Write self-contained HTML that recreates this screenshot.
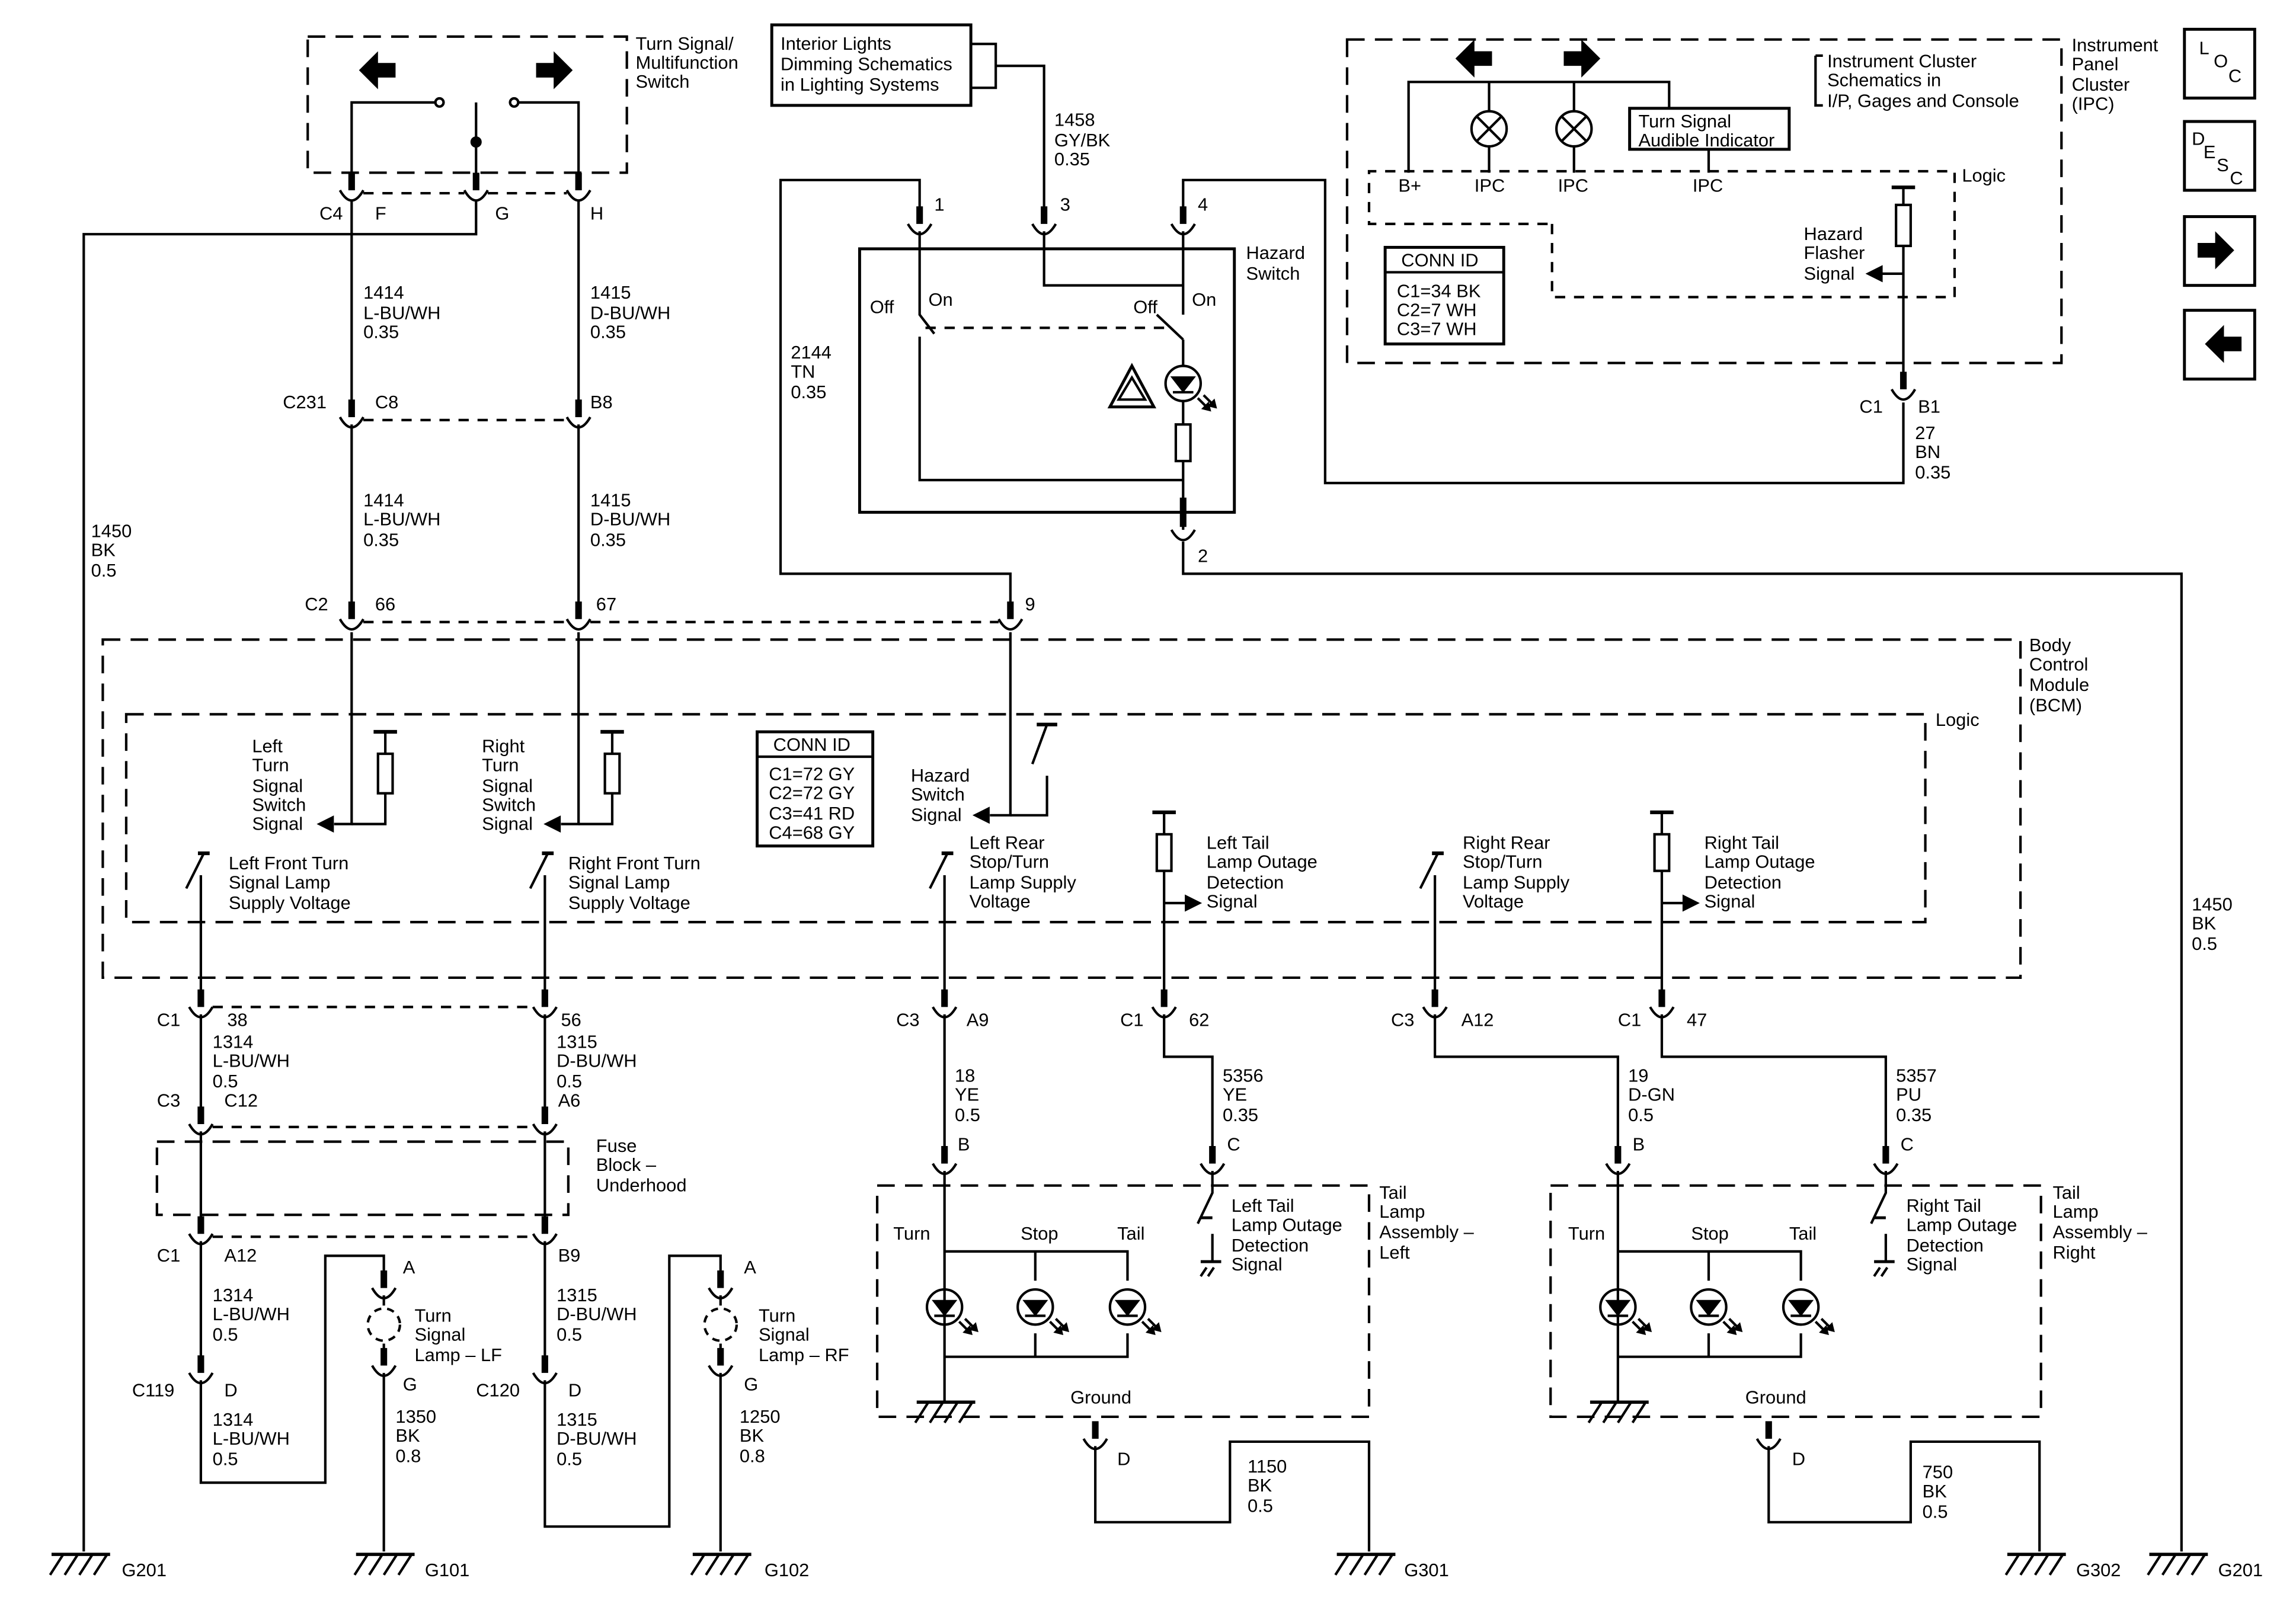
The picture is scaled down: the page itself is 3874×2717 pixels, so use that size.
<!DOCTYPE html>
<html><head><meta charset="utf-8"><style>
html,body{margin:0;padding:0;background:#fff}
svg{display:block}
text{font-family:"Liberation Sans",Arial,sans-serif;font-size:12.5px;fill:#000}
</style></head><body>
<svg id="s" width="3874" height="2717" viewBox="0 0 1568 1100" xmlns="http://www.w3.org/2000/svg">
<g id="g" fill="none" stroke="#000" stroke-width="1.7"></g>
<g id="t">
<text x="434" y="34">Turn Signal/</text><text x="434" y="47">Multifunction</text><text x="434" y="60">Switch</text>
<text x="533" y="34">Interior Lights</text><text x="533" y="48">Dimming Schematics</text><text x="533" y="62">in Lighting Systems</text>
<text x="720" y="86">1458</text><text x="720" y="100">GY/BK</text><text x="720" y="113">0.35</text>
<text x="1248" y="46">Instrument Cluster</text><text x="1248" y="59">Schematics in</text><text x="1248" y="73">I/P, Gages and Console</text>
<text x="1415" y="35">Instrument</text><text x="1415" y="48">Panel</text><text x="1415" y="62">Cluster</text><text x="1415" y="75">(IPC)</text>
<text x="1119" y="87">Turn Signal</text><text x="1119" y="100">Audible Indicator</text>
<text x="955" y="131">B+</text><text x="1007" y="131">IPC</text><text x="1064" y="131">IPC</text><text x="1156" y="131">IPC</text>
<text x="1340" y="124">Logic</text>
<text x="1232" y="164">Hazard</text><text x="1232" y="177">Flasher</text><text x="1232" y="191">Signal</text>
<text x="957" y="182">CONN ID</text><text x="954" y="203">C1=34 BK</text><text x="954" y="216">C2=7 WH</text><text x="954" y="229">C3=7 WH</text>
<text x="1270" y="282">C1</text><text x="1310" y="282">B1</text>
<text x="1308" y="300">27</text><text x="1308" y="313">BN</text><text x="1308" y="327">0.35</text>
<text x="218" y="150">C4</text><text x="256" y="150">F</text><text x="338" y="150">G</text><text x="403" y="150">H</text>
<text x="638" y="144">1</text><text x="724" y="144">3</text><text x="818" y="144">4</text>
<text x="851" y="177">Hazard</text><text x="851" y="191">Switch</text>
<text x="594" y="214">Off</text><text x="634" y="209">On</text><text x="774" y="214">Off</text><text x="814" y="209">On</text>
<text x="248" y="204">1414</text><text x="248" y="218">L-BU/WH</text><text x="248" y="231">0.35</text>
<text x="403" y="204">1415</text><text x="403" y="218">D-BU/WH</text><text x="403" y="231">0.35</text>
<text x="540" y="245">2144</text><text x="540" y="258">TN</text><text x="540" y="272">0.35</text>
<text x="193" y="279">C231</text><text x="256" y="279">C8</text><text x="403" y="279">B8</text>
<text x="248" y="346">1414</text><text x="248" y="359">L-BU/WH</text><text x="248" y="373">0.35</text>
<text x="403" y="346">1415</text><text x="403" y="359">D-BU/WH</text><text x="403" y="373">0.35</text>
<text x="62" y="367">1450</text><text x="62" y="380">BK</text><text x="62" y="394">0.5</text>
<text x="818" y="384">2</text>
<text x="208" y="417">C2</text><text x="256" y="417">66</text><text x="407" y="417">67</text><text x="700" y="417">9</text>
<text x="1386" y="445">Body</text><text x="1386" y="458">Control</text><text x="1386" y="472">Module</text><text x="1386" y="486">(BCM)</text>
<text x="1322" y="496">Logic</text>
<text x="172" y="514">Left</text><text x="172" y="527">Turn</text><text x="172" y="541">Signal</text><text x="172" y="554">Switch</text><text x="172" y="567">Signal</text>
<text x="329" y="514">Right</text><text x="329" y="527">Turn</text><text x="329" y="541">Signal</text><text x="329" y="554">Switch</text><text x="329" y="567">Signal</text>
<text x="528" y="513">CONN ID</text><text x="525" y="533">C1=72 GY</text><text x="525" y="546">C2=72 GY</text><text x="525" y="560">C3=41 RD</text><text x="525" y="573">C4=68 GY</text>
<text x="622" y="534">Hazard</text><text x="622" y="547">Switch</text><text x="622" y="561">Signal</text>
<text x="156" y="594">Left Front Turn</text><text x="156" y="607">Signal Lamp</text><text x="156" y="621">Supply Voltage</text>
<text x="388" y="594">Right Front Turn</text><text x="388" y="607">Signal Lamp</text><text x="388" y="621">Supply Voltage</text>
<text x="662" y="580">Left Rear</text><text x="662" y="593">Stop/Turn</text><text x="662" y="607">Lamp Supply</text><text x="662" y="620">Voltage</text>
<text x="824" y="580">Left Tail</text><text x="824" y="593">Lamp Outage</text><text x="824" y="607">Detection</text><text x="824" y="620">Signal</text>
<text x="999" y="580">Right Rear</text><text x="999" y="593">Stop/Turn</text><text x="999" y="607">Lamp Supply</text><text x="999" y="620">Voltage</text>
<text x="1164" y="580">Right Tail</text><text x="1164" y="593">Lamp Outage</text><text x="1164" y="607">Detection</text><text x="1164" y="620">Signal</text>
<text x="1497" y="622">1450</text><text x="1497" y="635">BK</text><text x="1497" y="649">0.5</text>
<text x="107" y="701">C1</text><text x="155" y="701">38</text><text x="383" y="701">56</text>
<text x="612" y="701">C3</text><text x="660" y="701">A9</text><text x="765" y="701">C1</text><text x="812" y="701">62</text>
<text x="950" y="701">C3</text><text x="998" y="701">A12</text><text x="1105" y="701">C1</text><text x="1152" y="701">47</text>
<text x="145" y="716">1314</text><text x="145" y="729">L-BU/WH</text><text x="145" y="743">0.5</text>
<text x="380" y="716">1315</text><text x="380" y="729">D-BU/WH</text><text x="380" y="743">0.5</text>
<text x="652" y="739">18</text><text x="652" y="752">YE</text><text x="652" y="766">0.5</text>
<text x="835" y="739">5356</text><text x="835" y="752">YE</text><text x="835" y="766">0.35</text>
<text x="1112" y="739">19</text><text x="1112" y="752">D-GN</text><text x="1112" y="766">0.5</text>
<text x="1295" y="739">5357</text><text x="1295" y="752">PU</text><text x="1295" y="766">0.35</text>
<text x="107" y="756">C3</text><text x="153" y="756">C12</text><text x="381" y="756">A6</text>
<text x="654" y="786">B</text><text x="838" y="786">C</text><text x="1115" y="786">B</text><text x="1298" y="786">C</text>
<text x="407" y="787">Fuse</text><text x="407" y="800">Block –</text><text x="407" y="814">Underhood</text>
<text x="942" y="819">Tail</text><text x="942" y="832">Lamp</text><text x="942" y="846">Assembly –</text><text x="942" y="860">Left</text>
<text x="1402" y="819">Tail</text><text x="1402" y="832">Lamp</text><text x="1402" y="846">Assembly –</text><text x="1402" y="860">Right</text>
<text x="841" y="828">Left Tail</text><text x="841" y="841">Lamp Outage</text><text x="841" y="855">Detection</text><text x="841" y="868">Signal</text>
<text x="1302" y="828">Right Tail</text><text x="1302" y="841">Lamp Outage</text><text x="1302" y="855">Detection</text><text x="1302" y="868">Signal</text>
<text x="610" y="847">Turn</text><text x="697" y="847">Stop</text><text x="763" y="847">Tail</text>
<text x="1071" y="847">Turn</text><text x="1155" y="847">Stop</text><text x="1222" y="847">Tail</text>
<text x="107" y="862">C1</text><text x="153" y="862">A12</text><text x="381" y="862">B9</text>
<text x="275" y="870">A</text><text x="508" y="870">A</text>
<text x="145" y="889">1314</text><text x="145" y="902">L-BU/WH</text><text x="145" y="916">0.5</text>
<text x="380" y="889">1315</text><text x="380" y="902">D-BU/WH</text><text x="380" y="916">0.5</text>
<text x="283" y="903">Turn</text><text x="283" y="916">Signal</text><text x="283" y="930">Lamp – LF</text>
<text x="518" y="903">Turn</text><text x="518" y="916">Signal</text><text x="518" y="930">Lamp – RF</text>
<text x="275" y="950">G</text><text x="508" y="950">G</text>
<text x="90" y="954">C119</text><text x="153" y="954">D</text><text x="325" y="954">C120</text><text x="388" y="954">D</text>
<text x="731" y="959">Ground</text><text x="1192" y="959">Ground</text>
<text x="270" y="972">1350</text><text x="270" y="985">BK</text><text x="270" y="999">0.8</text>
<text x="505" y="972">1250</text><text x="505" y="985">BK</text><text x="505" y="999">0.8</text>
<text x="145" y="974">1314</text><text x="145" y="987">L-BU/WH</text><text x="145" y="1001">0.5</text>
<text x="380" y="974">1315</text><text x="380" y="987">D-BU/WH</text><text x="380" y="1001">0.5</text>
<text x="763" y="1001">D</text><text x="1224" y="1001">D</text>
<text x="852" y="1006">1150</text><text x="852" y="1019">BK</text><text x="852" y="1033">0.5</text>
<text x="1313" y="1010">750</text><text x="1313" y="1023">BK</text><text x="1313" y="1037">0.5</text>
<text x="83" y="1077">G201</text><text x="290" y="1077">G101</text><text x="522" y="1077">G102</text><text x="959" y="1077">G301</text><text x="1418" y="1077">G302</text><text x="1515" y="1077">G201</text>
<text x="1502" y="37">L</text><text x="1512" y="46">O</text><text x="1522" y="56">C</text>
<text x="1497" y="99">D</text><text x="1505" y="108">E</text><text x="1514" y="117">S</text><text x="1523" y="126">C</text>
</g>
</svg>
<script>
const G=document.getElementById('g');
function el(t,a){const e=document.createElementNS('http://www.w3.org/2000/svg',t);for(const k in a)e.setAttribute(k,a[k]);G.appendChild(e);return e;}
function P(d,extra){return el('path',Object.assign({d:d},extra||{}));}
function dash(d){return P(d,{'stroke-dasharray':'12,7'});}
function sdash(d){return P(d,{'stroke-dasharray':'7,6'});}
function con(x,y){P(`M${x},${y-14}V${y-2}`,{'stroke-width':4.5});P(`M${x-8},${y-2}Q${x},${y+12} ${x+8},${y-2}`);}
function gnd(x,y){P(`M${x-22},${y}H${x+18}`,{'stroke-width':2.2});for(let i=0;i<4;i++){const a=x-14+i*10;P(`M${a},${y}L${a-9},${y+14}`);}}
function res(x,y1,y2){el('rect',{x:x-5,y:y1,width:10,height:y2-y1});}
function arrL(x,y){P(`M${x},${y}l9,-4.5v9z`,{fill:'#000'});}
function arrR(x,y){P(`M${x},${y}l-9,-4.5v9z`,{fill:'#000'});}
function led(x,y){el('circle',{cx:x,cy:y,r:12});P(`M${x-7},${y-4}h14l-7,9z`,{fill:'#000'});P(`M${x-7},${y+6}h14`);
 P(`M${x+10},${y+10}l8,8M${x+14},${y+8}l8,8`);P(`M${x+18},${y+18}l-4,-1l3,-3zM${x+22},${y+16}l-4,-1l3,-3z`,{fill:'#000'});}
function bigArrow(x,y,dir){const d=dir;P(`M${x-d*12},${y-5}h${d*12}v-8l${d*13},13l${-d*13},13v-8h${-d*12}z`,{fill:'#000',stroke:'none'});}
dash('M210,25H428V118H210Z');
bigArrow(258,48,-1);bigArrow(378,48,1);
P('M240,118V70H298');el('circle',{cx:300,cy:70,r:2.8});el('circle',{cx:351,cy:70,r:2.8});P('M353,70H395V118');
P('M325,70V118');el('circle',{cx:325,cy:97,r:3,fill:'#000'});
P('M240,118V130M325,118V130M395,118V130',{'stroke-width':4.5});
sdash('M248,132H317M333,132H387');
[240,325,395].forEach(x=>P(`M${x-8},${130}Q${x},${144} ${x+8},${130}`));
P('M240,137V280M395,137V280M325,137V160H57V1060');
con(240,287);con(395,287);sdash('M248,287H387');
P('M240,290V420M395,290V420');
con(240,425);con(395,425);con(690,425);sdash('M248,425H387M403,425H682');
el('rect',{x:527,y:17,width:136,height:55,'stroke-width':2});
P('M663,30H680V60H663M680,45H713V145');
con(628,155);con(713,155);con(808,155);
P('M628,142V123H533V392H690V412');
P('M808,142V123H905V330H1300V275');
el('rect',{x:587,y:170,width:256,height:180,'stroke-width':2});
P('M628,158V215L638,228M628,230V328H808');
sdash('M632,224H796');
P('M713,158V195H808V215M808,158V200');P('M790,215L808,232M808,232V250');
led(808,262);P('M808,274V290');res(808,290,315);P('M808,315V362');
P('M808,340V360',{'stroke-width':4.5});P('M800,362Q808,376 816,362');P('M808,370V392H1490V1060');
P('M773,250L758,278H788Z',{'stroke-width':2});P('M773,258L764,273H782Z');
dash('M920,27H1408V248H920Z');
bigArrow(1007,40,-1);bigArrow(1080,40,1);
P('M962,118V56H1140V74');P('M1017,56V76M1017,100V118M1075,56V76M1075,100V118');
[1017,1075].forEach(x=>{el('circle',{cx:x,cy:88,r:12});P(`M${x-8},${80}l16,16M${x+8},${80}l-16,16`);});
el('rect',{x:1113,y:74,width:109,height:28,'stroke-width':2});P('M1167,102V118');
P('M1240,38H1245M1240,38V72H1245');
sdash('M1060,153V203H1335V117H935V153H1060');
el('rect',{x:946,y:169,width:81,height:66,'stroke-width':2});P('M946,186H1027');
P('M1292,128h16',{'stroke-width':2.5});P('M1300,128V140');res(1300,140,168);P('M1300,168V260M1300,187H1285');arrL(1276,187);
con(1300,268);
dash('M70,437H1380V668H70Z');dash('M86,488H1315V630H86Z');
P('M240,432V563H228');arrL(218,563);P('M255,500h16',{'stroke-width':2.5});P('M263,500V515');res(263,515,542);P('M263,542V563H240');
P('M395,432V563H383');arrL(373,563);P('M410,500h16',{'stroke-width':2.5});P('M418,500V515');res(418,515,542);P('M418,542V563H395');
el('rect',{x:517,y:500,width:79,height:78,'stroke-width':2});P('M517,517H596');
P('M690,432V557H676');arrL(666,557);P('M708,495h14',{'stroke-width':2.5});P('M715,495L705,522M715,530V557H690');
function bcmSw(x){P(`M${x-2},${583}h8`,{'stroke-width':2.5});P(`M${x+2},583L${x-10},607`);P(`M${x},598V678`);}
[137,372,645,980].forEach(bcmSw);
function tailDet(x){P(`M${x-8},555h16`,{'stroke-width':2.5});P(`M${x},555V570`);res(x,570,595);P(`M${x},595V678M${x},617H${x+15}`);arrR(x+24,617);}
tailDet(795);tailDet(1135);
[137,372,645,795,980,1135].forEach(x=>con(x,690));sdash('M145,688H364');
P('M137,693V765M372,693V765');con(137,770);con(372,770);sdash('M145,770H364');
dash('M107,780H388V830H107Z');P('M137,773V840M372,773V840');
con(137,845);con(372,845);sdash('M145,845H364');
P('M137,848V935M372,848V935');con(137,940);con(372,940);
P('M137,943V1013H222V858H262V868M372,943V1043H457V858H492V868');
function lamp(x){con(x,882);P(`M${x},885V892`);el('circle',{cx:x,cy:905,r:11,'stroke-dasharray':'5,4'});P(`M${x},918V925`);con(x,935);P(`M${x},938V1060`);}
lamp(262);lamp(492);
function tail(o,w,gx,gxEnd){
 const a=645+o;
 con(a,797);con(828+o,797);
 dash(`M${599+o},810H${599+o+w}V968H${599+o}Z`);
 P(`M${a},800V958M${a},855H${770+o}V875M${707+o},855V875M${a},927H${770+o}V911M${707+o},911V927`);
 led(a,893);led(707+o,893);led(770+o,893);
 gnd(a+3,958);
 P(`M${828+o},800V815L${818+o},836`);P(`M${828+o},832h-8`,{'stroke-width':2});P(`M${828+o},843V862`);P(`M${820+o},862h14`,{'stroke-width':2});
 P(`M${824+o},866l-4,6M${829+o},866l-4,6`);
 con(748+o,985);P(`M${748+o},988V1040H${gx}V985H${gxEnd}V1060`);
}
P('M645,693V790M795,693V722H828V790');
P('M980,693V722H1105V790M1135,693V722H1288V790');
tail(0,336,840,935);tail(460,335,1305,1393);
[57,265,495,935,1393,1490].forEach(x=>gnd(x,1062));
[[1492,20],[1492,83],[1492,148],[1492,212]].forEach(([x,y])=>el('rect',{x:x,y:y,width:48,height:47,'stroke-width':2}));
bigArrow(1513,171,1);bigArrow(1519,235,-1);
</script>
</body></html>
